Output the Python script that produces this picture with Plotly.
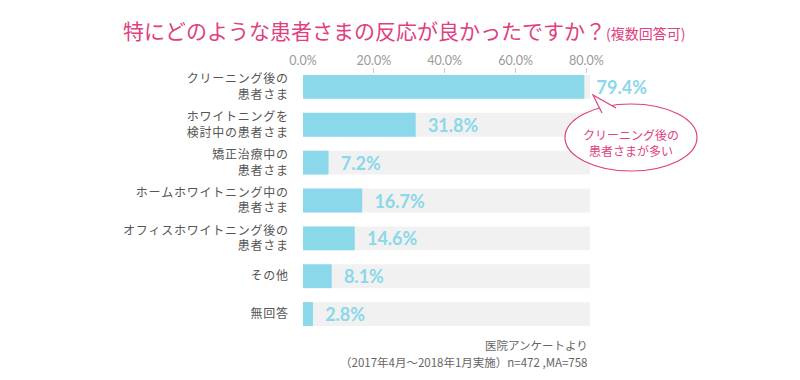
import plotly.graph_objects as go

categories = [
    "クリーニング後の<br>患者さま",
    "ホワイトニングを<br>検討中の患者さま",
    "矯正治療中の<br>患者さま",
    "ホームホワイトニング中の<br>患者さま",
    "オフィスホワイトニング後の<br>患者さま",
    "その他",
    "無回答",
]
values = [79.4, 31.8, 7.2, 16.7, 14.6, 8.1, 2.8]
tick_vals = [0, 20, 40, 60, 80]
tick_text = ["0.0%", "20.0%", "40.0%", "60.0%", "80.0%"]
bg_max = 81

W, H = 800, 380
ML, MR, MT, MB = 0, 0, 68, 47
PH = H - MT - MB

def px(x):
    return x / W

def py(y):
    return (H - MB - y) / PH

def spaced(label):
    return "<br>".join("\u200a".join(line) for line in label.split("<br>"))

BLUE = "#8ad8ea"
PINK = "#e0407f"
JP = "Noto Sans CJK JP"

fig = go.Figure()
fig.add_trace(go.Bar(
    y=categories, x=[bg_max] * len(categories), orientation="h",
    marker=dict(color="#f1f1f1", line=dict(width=0)), width=0.63,
    hoverinfo="skip", showlegend=False,
))
fig.add_trace(go.Bar(
    y=categories, x=values, orientation="h",
    marker=dict(color=BLUE, line=dict(width=0)), width=0.63,
    text=[f"\u00a0\u00a0<b>{v:.1f}%</b>" for v in values], textposition="outside",
    textfont=dict(color=BLUE, size=18, family="Lato, " + JP),
    cliponaxis=False, showlegend=False,
))

fig.update_layout(
    width=W, height=H, barmode="overlay",
    margin=dict(l=ML, r=MR, t=MT, b=MB, autoexpand=False),
    paper_bgcolor="white", plot_bgcolor="white",
    xaxis=dict(domain=[303 / W, (303 + 287) / W], range=[0, bg_max], side="top",
               tickvals=tick_vals, ticktext=tick_text, ticks="inside", ticklen=5,
               tickcolor="#cccccc", showgrid=False, zeroline=False, showline=False,
               automargin=False,
               tickfont=dict(color="#999999", size=12.5, family="Lato, " + JP)),
    yaxis=dict(autorange="reversed", showgrid=False, zeroline=False, showline=False,
               ticks="", ticklabelstandoff=14, automargin=False,
               tickvals=categories, ticktext=[spaced(c) for c in categories],
               tickfont=dict(color="#555555", size=12, family=JP)),
    font=dict(family=JP),
    annotations=[
        dict(xref="paper", yref="paper", x=px(404), y=py(30), showarrow=False,
             xanchor="center", yanchor="middle",
             text="特にどのような患者さまの反応が良かったですか？<span style='font-size:14px'>(複数回答可)</span>",
             font=dict(color=PINK, size=21, family=JP)),
        dict(xref="paper", yref="paper", x=px(631), y=py(142), showarrow=False,
             xanchor="center", yanchor="middle",
             text="クリーニング後の<br>患者さまが多い",
             font=dict(color=PINK, size=12, family=JP)),
        dict(xref="paper", yref="paper", x=px(590), y=py(345), showarrow=False,
             xanchor="right", yanchor="middle", text="医院アンケートより",
             font=dict(color="#666666", size=11.5, family=JP)),
        dict(xref="paper", yref="paper", x=px(590), y=py(362), showarrow=False,
             xanchor="right", yanchor="middle", text="（2017年4月～2018年1月実施）n=472 ,MA=758",
             font=dict(color="#666666", size=11.5, family=JP)),
    ],
    shapes=[
        dict(type="circle", xref="paper", yref="paper",
             x0=px(565), x1=px(697), y0=py(104), y1=py(171),
             line=dict(color=PINK, width=1.2), fillcolor="white", layer="above"),
        dict(type="path", xref="paper", yref="paper",
             path=f"M {px(602)},{py(113)} L {px(593)},{py(95)} L {px(616)},{py(108)}",
             line=dict(color=PINK, width=1.2), fillcolor="white", layer="above"),
    ],
)

fig.write_html("out.html", config={"displayModeBar": False},
               post_script="document.body.style.margin='0';")
